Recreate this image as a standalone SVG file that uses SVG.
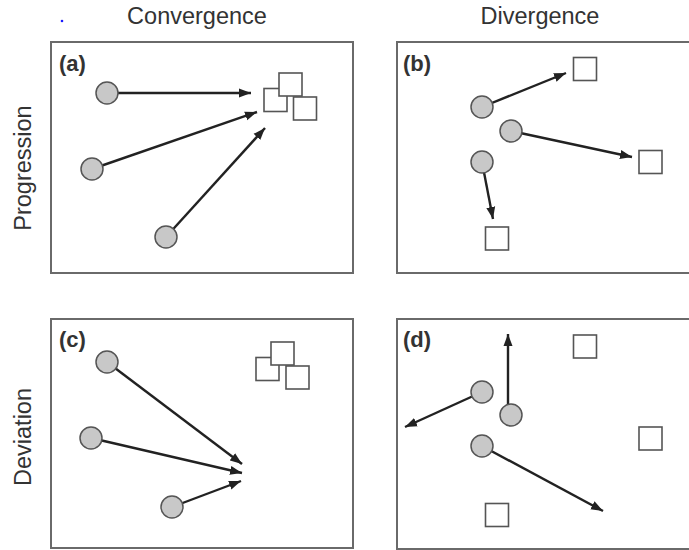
<svg xmlns="http://www.w3.org/2000/svg" width="689" height="550" viewBox="0 0 689 550">
<defs>
<marker id="ah" markerUnits="userSpaceOnUse" markerWidth="13" markerHeight="11" refX="12" refY="5.5" orient="auto">
<path d="M0,1 L12,5.5 L0,10 Z" fill="#222"/>
</marker>
<style>
.panel{fill:#fff;stroke:#6a6a6a;stroke-width:2}
.hdr{font-family:"Liberation Sans",Arial,sans-serif;font-size:23.5px;fill:#333}
.lbl{font-family:"Liberation Sans",Arial,sans-serif;font-size:22px;font-weight:bold;fill:#333}
.c{fill:#c8c8c8;stroke:#555;stroke-width:1.5}
.s{fill:#fff;stroke:#555;stroke-width:1.6}
.e{stroke:#222;stroke-width:2.4;fill:none;marker-end:url(#ah)}
</style>
</defs>
<rect width="689" height="550" fill="#fff"/>
<circle cx="62" cy="21" r="1.3" fill="#1a1aff"/>
<text class="hdr" x="197" y="24" text-anchor="middle">Convergence</text>
<text class="hdr" x="540" y="24" text-anchor="middle">Divergence</text>
<text class="hdr" transform="translate(31,168) rotate(-90)" text-anchor="middle">Progression</text>
<text class="hdr" transform="translate(31,437) rotate(-90)" text-anchor="middle">Deviation</text>

<g id="panel-a">
<rect class="panel" x="51" y="42" width="302" height="231"/>
<text class="lbl" x="59" y="71">(a)</text>
</g>
<g id="panel-b">
<rect class="panel" x="397" y="42" width="300" height="231"/>
<text class="lbl" x="403" y="71">(b)</text>
</g>
<g id="panel-c">
<rect class="panel" x="51" y="319" width="302" height="229"/>
<text class="lbl" x="59" y="347">(c)</text>
</g>
<g id="panel-d">
<rect class="panel" x="397" y="319" width="300" height="230"/>
<text class="lbl" x="403" y="347">(d)</text>
</g>

<g id="connectors">
<line class="e" x1="107" y1="93" x2="251" y2="93"/>
<line class="e" x1="92" y1="169" x2="257" y2="112"/>
<line class="e" x1="166" y1="237" x2="265" y2="128"/>
<line class="e" x1="107" y1="362" x2="242" y2="464"/>
<line class="e" x1="91" y1="438" x2="242" y2="473"/>
<line class="e" x1="172" y1="507" x2="241" y2="481"/>
<line class="e" x1="482" y1="107" x2="566" y2="73"/>
<line class="e" x1="511" y1="131" x2="632" y2="157"/>
<line class="e" x1="482" y1="162" x2="493" y2="219"/>
<line class="e" x1="482" y1="392" x2="405" y2="427"/>
<line class="e" x1="508" y1="410" x2="508" y2="334"/>
<line class="e" x1="482" y1="446" x2="603" y2="511"/>
</g>

<g id="a-sources">
<circle class="c" cx="107" cy="93" r="11"/>
<circle class="c" cx="92" cy="169" r="11"/>
<circle class="c" cx="166" cy="237" r="11"/>
</g>
<g id="a-targets">
<rect class="s" x="264" y="88.5" width="23" height="23"/>
<rect class="s" x="279" y="73" width="23" height="23"/>
<rect class="s" x="293.5" y="97" width="23" height="23"/>
</g>
<g id="b-sources">
<circle class="c" cx="482" cy="107" r="11"/>
<circle class="c" cx="511" cy="131" r="11"/>
<circle class="c" cx="482" cy="162" r="11"/>
</g>
<g id="b-targets">
<rect class="s" x="573.5" y="57.5" width="23" height="23"/>
<rect class="s" x="639" y="150.5" width="23" height="23"/>
<rect class="s" x="485.5" y="227" width="23" height="23"/>
</g>
<g id="c-sources">
<circle class="c" cx="107" cy="362" r="11"/>
<circle class="c" cx="91" cy="438" r="11"/>
<circle class="c" cx="172" cy="507" r="11"/>
</g>
<g id="c-targets">
<rect class="s" x="256" y="357.5" width="23" height="23"/>
<rect class="s" x="271" y="342" width="23" height="23"/>
<rect class="s" x="286" y="366" width="23" height="23"/>
</g>
<g id="d-sources">
<circle class="c" cx="482" cy="392" r="11"/>
<circle class="c" cx="511" cy="415" r="11"/>
<circle class="c" cx="482" cy="446" r="11"/>
</g>
<g id="d-targets">
<rect class="s" x="573.5" y="335" width="23" height="23"/>
<rect class="s" x="639" y="427" width="23" height="23"/>
<rect class="s" x="485.5" y="503.5" width="23" height="23"/>
</g>
</svg>
